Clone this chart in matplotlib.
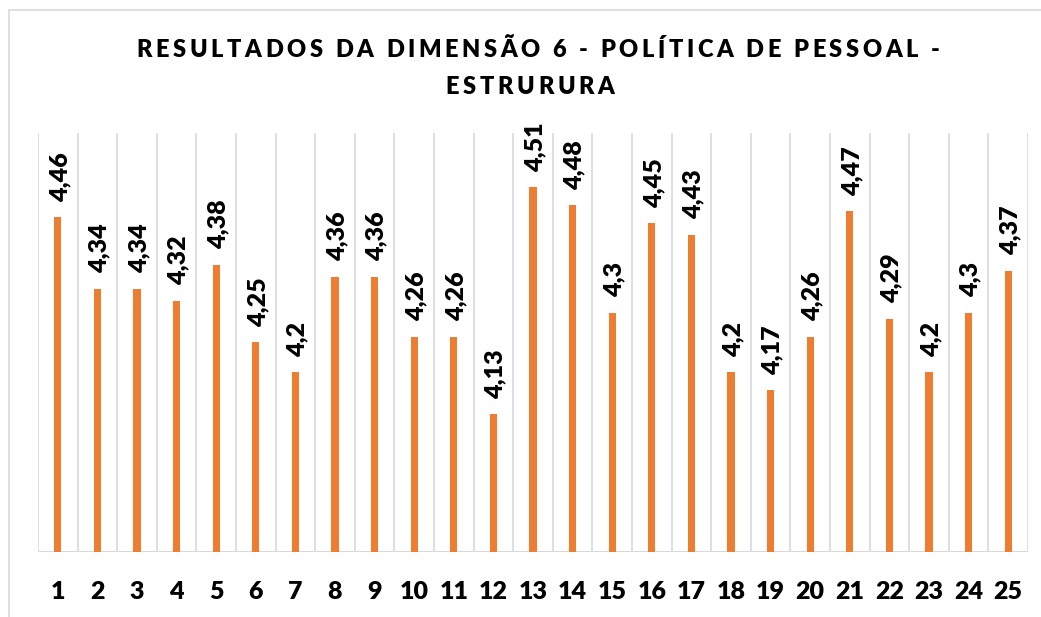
import matplotlib
matplotlib.use('Agg')
import matplotlib.pyplot as plt
from matplotlib.patches import Rectangle
from matplotlib.font_manager import FontProperties, findfont

# dados do gráfico
categorias = [str(i) for i in range(1, 26)]
valores = [4.46, 4.34, 4.34, 4.32, 4.38, 4.25, 4.2, 4.36, 4.36, 4.26,
           4.26, 4.13, 4.51, 4.48, 4.3, 4.45, 4.43, 4.2, 4.17, 4.26,
           4.47, 4.29, 4.2, 4.3, 4.37]
titulo_linhas = ["RESULTADOS DA DIMENSÃO 6 - POLÍTICA DE PESSOAL -", "ESTRURURA"]

LARANJA = '#ED7D31'
CINZA = '#D9D9D9'
FONTE = 'Lato'
PESO = 'heavy'

plt.rcParams['font.family'] = FONTE
print(findfont(FontProperties(family=FONTE, weight=PESO)))
print(findfont(FontProperties(family=FONTE, weight='bold')))

W, H = 1041, 617
fig = plt.figure(figsize=(W / 100, H / 100), dpi=100)

# borda externa do gráfico (estilo Excel)
fig.patches.append(Rectangle((9 / W, -0.1), 1.2, 1 - 10 / H + 0.1,
                             transform=fig.transFigure, fill=False,
                             edgecolor=CINZA, linewidth=1.2))

ax = fig.add_axes([38 / W, 1 - 552 / H, (1028 - 38) / W, (552 - 133) / H])
x = list(range(1, len(valores) + 1))
ax.bar(x, [v - 3.9 for v in valores], bottom=3.9, width=0.18,
       color=LARANJA, zorder=3)
ax.set_xlim(0.5, len(valores) + 0.5)
ax.set_ylim(3.9, 4.6)

# linhas de grade verticais entre categorias
for b in range(len(valores) + 1):
    ax.axvline(b + 0.5, color=CINZA, linewidth=1.2, zorder=1)
ax.axhline(3.9, color=CINZA, linewidth=1.5, zorder=2)

for s in ax.spines.values():
    s.set_visible(False)
ax.set_yticks([])
ax.set_xticks(x)
ax.set_xticklabels(categorias, fontsize=18, fontweight=PESO)
ax.tick_params(axis='x', length=0, pad=21)

for xi, v in zip(x, valores):
    rotulo = f"{v:g}".replace('.', ',')
    ax.annotate(rotulo, (xi, v), xytext=(1.5, 11), textcoords='offset points',
                rotation=90, ha='center', va='bottom',
                fontsize=18, fontweight=PESO)

# título com espaçamento entre letras
renderer = fig.canvas.get_renderer()
fp = FontProperties(family=FONTE, weight=PESO, size=17)


def largura(ch):
    if ch == ' ':
        w1 = renderer.get_text_width_height_descent('a a', fp, ismath=False)[0]
        w2 = renderer.get_text_width_height_descent('aa', fp, ismath=False)[0]
        return w1 - w2
    return renderer.get_text_width_height_descent(ch, fp, ismath=False)[0]


def texto_espacado(s, xc, yc, espaco):
    larguras = [largura(c) for c in s]
    total = sum(larguras) + espaco * (len(s) - 1)
    xp = xc - total / 2
    for c, w in zip(s, larguras):
        if c != ' ':
            fig.text(xp / W, 1 - yc / H, c, fontproperties=fp,
                     ha='left', va='center', color='black')
        xp += w + espaco


# espaçamento ajustado para a largura da primeira linha (~803 px)
linha1 = titulo_linhas[0]
espaco = (803 - sum(largura(c) for c in linha1)) / (len(linha1) - 1)
texto_espacado(linha1, 538, 50, espaco)
texto_espacado(titulo_linhas[1], 530, 87, espaco)

fig.savefig('out.png', dpi=100)
